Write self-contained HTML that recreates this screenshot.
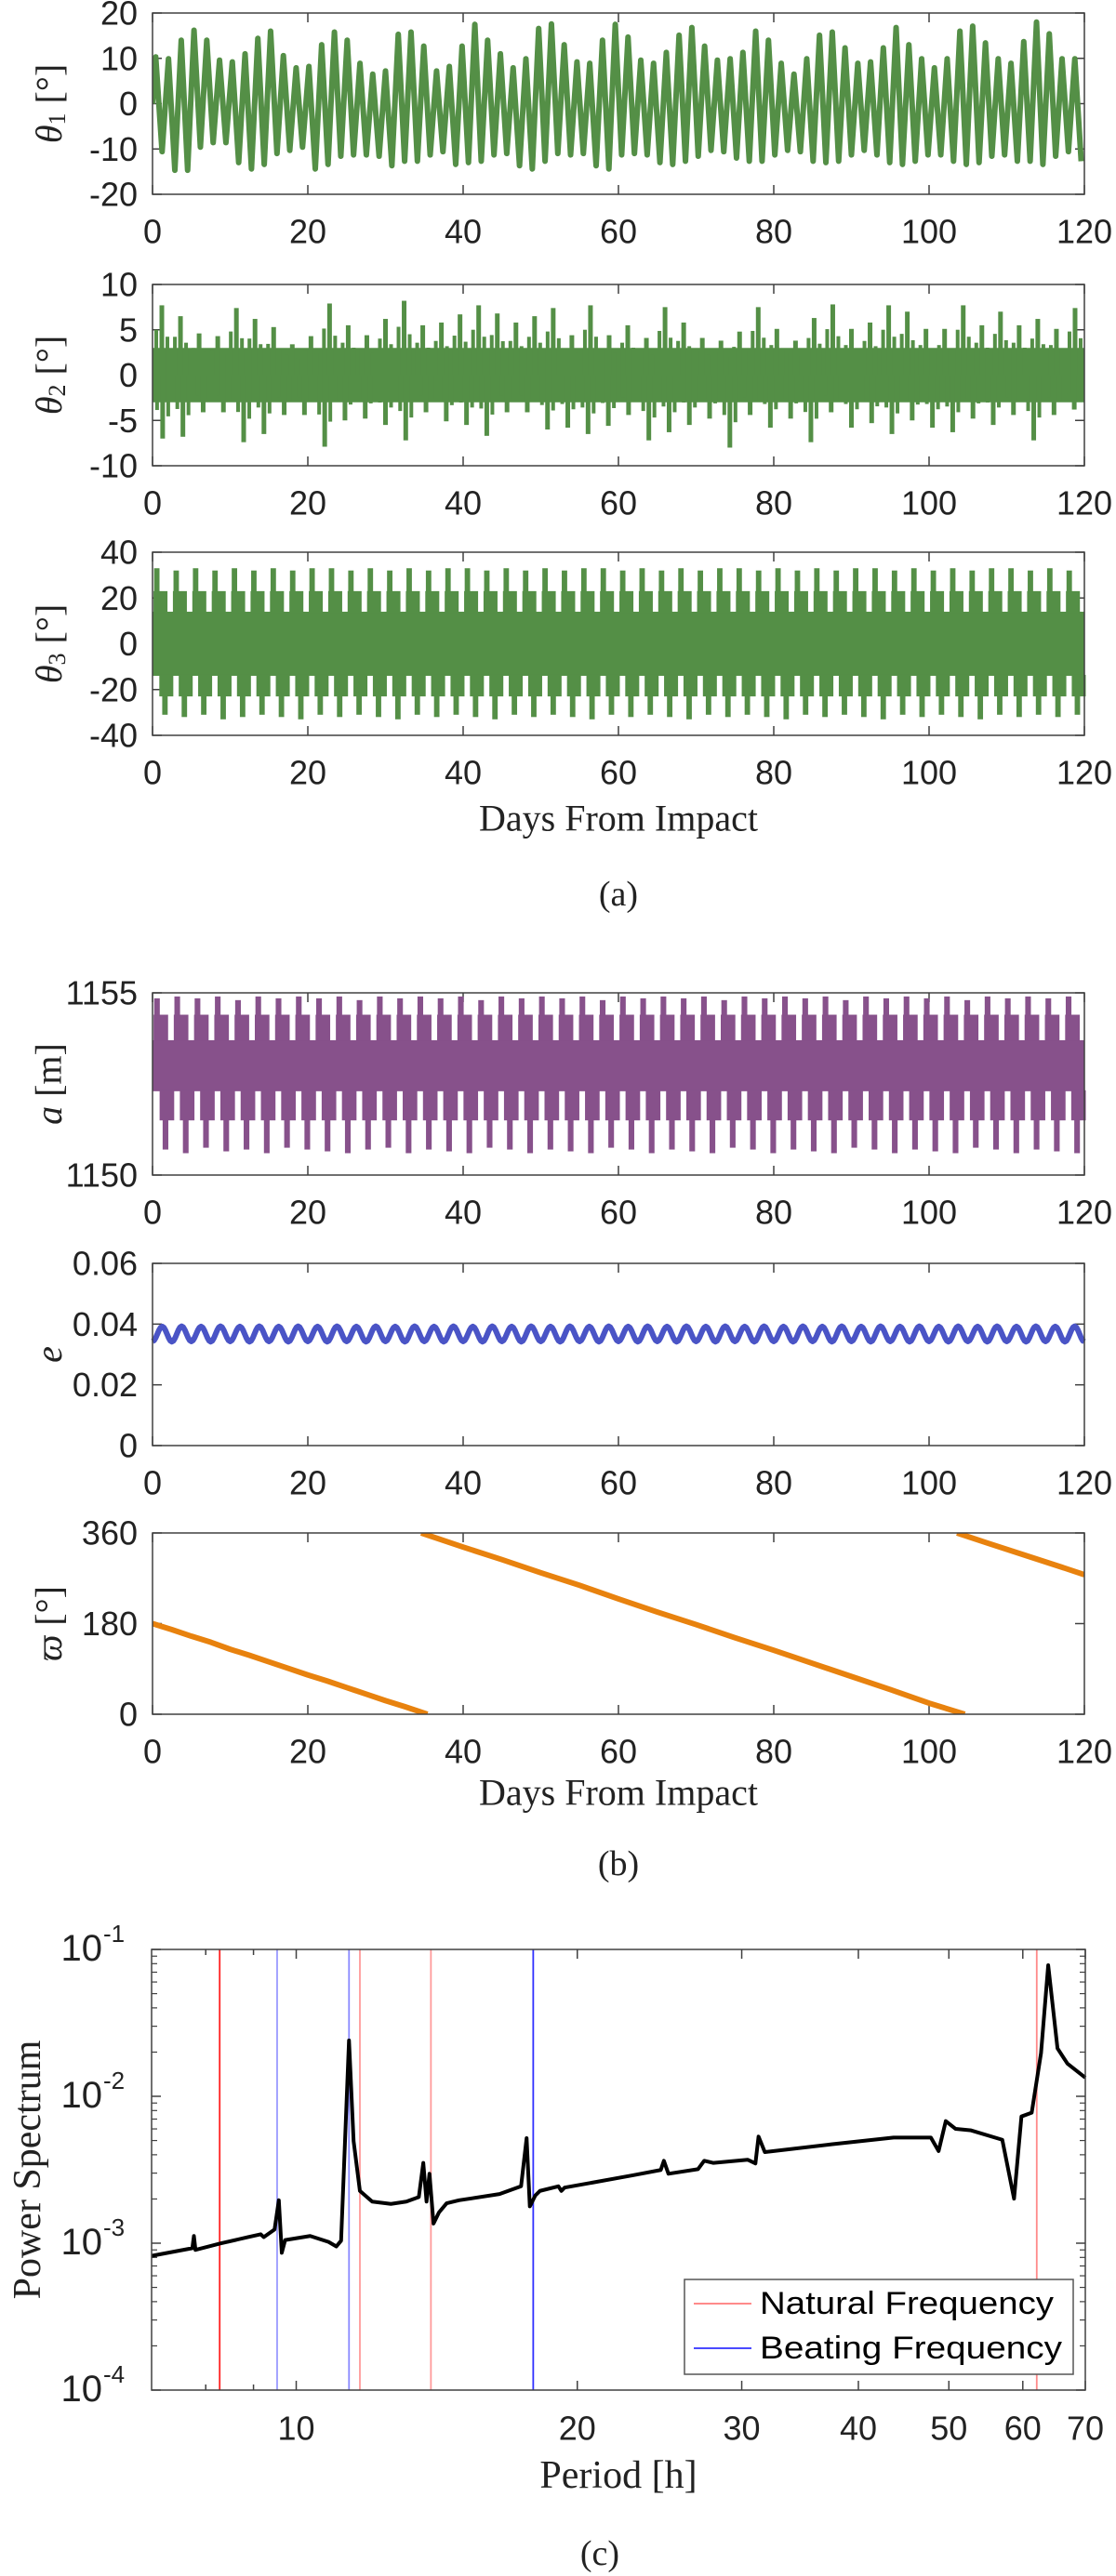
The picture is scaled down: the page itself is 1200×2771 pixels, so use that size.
<!DOCTYPE html>
<html><head><meta charset="utf-8"><style>
html,body{margin:0;padding:0;background:#fff;}
svg{display:block;}
</style></head><body>
<svg id="fig" xmlns="http://www.w3.org/2000/svg" width="1200" height="2771" viewBox="0 0 1200 2771"></svg>
<script>
// ---------- DATA ----------
const theta1Max=[10.3,9.9,14.0,16.2,14.0,9.6,9.2,11.0,14.4,16.0,10.6,7.9,8.2,13.0,15.8,14.0,8.9,6.5,7.2,15.3,15.8,12.7,7.2,8.2,12.7,17.5,14.0,11.0,7.9,9.9,16.6,17.6,13.0,9.2,8.9,14.0,17.5,14.7,9.6,8.9,11.3,15.1,16.8,12.7,9.6,9.9,11.3,16.0,14.0,8.9,6.5,9.9,15.1,15.8,12.3,8.9,9.2,12.3,16.8,13.0,9.9,7.9,9.9,16.0,17.1,13.4,9.9,8.9,13.7,18.0,15.4,9.9,9.9];
const theta1Min=[-10.6,-14.7,-14.7,-9.6,-8.6,-8.6,-13.0,-14.4,-13.4,-11.0,-10.3,-9.6,-14.4,-13.4,-11.6,-11.3,-11.3,-11.6,-13.7,-12.7,-12.7,-11.3,-10.6,-13.4,-13.0,-12.7,-11.3,-11.0,-13.7,-14.4,-12.7,-11.0,-11.3,-11.0,-13.7,-14.4,-11.3,-11.0,-11.3,-13.0,-13.4,-12.7,-11.6,-10.3,-10.6,-12.0,-12.7,-12.7,-11.3,-10.3,-10.6,-12.7,-13.0,-12.7,-11.3,-10.3,-11.3,-13.0,-13.4,-12.7,-11.3,-11.3,-12.7,-13.4,-13.0,-11.6,-11.3,-12.7,-12.7,-13.4,-11.6,-10.6,-12.7];
const theta2Core=3.0;
const theta2Hi=[7.7,6.5,4.6,4.3,7.4,6.2,5.3,3.4,4.3,7.9,5.5,4.4,6.2,8.2,5.5,5.8,6.7,7.7,6.8,5.8,6.5,7.4,4.4,7.7,4.4,5.5,4.1,7.5,5.8,4.1,3.8,4.8,7.5,5.1,3.8,6.3,7.8,5.1,5.8,7.7,7.0,5.1,5.1,7.7,5.5,7.0,5.5,6.2,5.1,7.4];
const theta2Lo=[-7.0,-6.8,-4.1,-4.1,-7.4,-6.5,-4.4,-4.4,-7.9,-5.0,-4.8,-5.5,-7.2,-4.1,-5.1,-5.5,-6.7,-4.1,-4.1,-6.0,-5.8,-6.5,-5.6,-4.4,-7.2,-6.3,-5.5,-4.8,-8.0,-4.4,-5.8,-4.8,-7.4,-4.1,-5.8,-5.3,-6.5,-5.0,-5.8,-6.3,-4.8,-5.5,-4.4,-7.2,-4.4,-3.8];
const theta3Core=14, theta3Shoulder=23;
const theta3Hi=[33,32,33,32,33,32,33,32,33,33,32,33,32,33,32,33,33,32,33,32,33,32,33,33,32,33,32,33,32,33,33,32,33,32,33,32,33,33,32,33,32,33,32,33,33,32,33,32];
const theta3Lo=[-31,-32,-31,-33,-32,-31,-32,-33,-31,-32,-31,-32,-33,-31,-32,-31,-32,-33,-31,-32,-31,-32,-33,-31,-32,-31,-32,-33,-31,-32,-31,-32,-33,-31,-32,-31,-32,-33,-31,-32,-31,-32,-33,-31,-32,-31,-32,-31];
const aCoreLo=1152.3, aCoreHi=1153.7, aShoulderHi=1154.4, aShoulderLo=1151.5;
const aHi=[1154.85,1154.9,1154.85,1154.9,1154.8,1154.9,1154.85,1154.9,1154.85,1154.9,1154.8,1154.9,1154.85,1154.9,1154.85,1154.9,1154.8,1154.9,1154.85,1154.9,1154.85,1154.9,1154.8,1154.9,1154.85,1154.9,1154.85,1154.9,1154.8,1154.9,1154.85,1154.9,1154.85,1154.9,1154.8,1154.9,1154.85,1154.9,1154.85,1154.9,1154.8,1154.9,1154.85,1154.9,1154.85,1154.9];
const aLo=[1150.7,1150.6,1150.75,1150.65,1150.7,1150.6,1150.75,1150.7,1150.65,1150.6,1150.7,1150.75,1150.6,1150.7,1150.65,1150.6,1150.75,1150.7,1150.6,1150.7,1150.65,1150.6,1150.75,1150.7,1150.6,1150.7,1150.65,1150.6,1150.75,1150.7,1150.6,1150.7,1150.65,1150.6,1150.75,1150.7,1150.6,1150.7,1150.65,1150.6,1150.75,1150.7,1150.6,1150.7,1150.65,1150.6];
const eMax=[0.0392,0.0393,0.0392,0.0393,0.0392,0.0393,0.0392,0.0393,0.0392,0.0393,0.0392,0.0393,0.0392,0.0393,0.0392,0.0393,0.0392,0.0393,0.0392,0.0393,0.0392,0.0393,0.0392,0.0393,0.0392,0.0393,0.0392,0.0393,0.0392,0.0393,0.0392,0.0393,0.0392,0.0393,0.0392,0.0393,0.0392,0.0393,0.0392,0.0393,0.0392,0.0393,0.0392,0.0393,0.0392,0.0393,0.0392,0.0393];
const eMin=[0.0343,0.0342,0.0343,0.0342,0.0343,0.0342,0.0343,0.0342,0.0343,0.0342,0.0343,0.0342,0.0343,0.0342,0.0343,0.0342,0.0343,0.0342,0.0343,0.0342,0.0343,0.0342,0.0343,0.0342,0.0343,0.0342,0.0343,0.0342,0.0343,0.0342,0.0343,0.0342,0.0343,0.0342,0.0343,0.0342,0.0343,0.0342,0.0343,0.0342,0.0343,0.0342,0.0343,0.0342,0.0343,0.0342,0.0343,0.0342];
const varpiSeg1T=[0,2.5,5,7.5,10,12.5,15,17.5,20,22.5,25,27.5,30,32.5,35.4];
const varpiSeg1V=[180,168,155,143,129,117,104,91,78,66,53,40,27,15,0];
const varpiSeg2T=[34.6,40,45,50,55,60,65,70,75,80,85,90,95,100,104.6];
const varpiSeg2V=[360,332,307,281,256,229,203,178,152,127,101,75,49,22,0];
const varpiSeg3T=[103.6,107.5,112.5,117.5,120];
const varpiSeg3V=[360,340,315,290,277];
const specPeriod=[7.00,7.74,7.77,7.80,8.29,8.88,9.16,9.23,9.48,9.58,9.65,9.73,10.35,10.83,11.04,11.17,11.39,11.52,11.70,12.06,12.63,13.12,13.53,13.68,13.79,13.89,14.03,14.22,14.49,14.94,16.51,17.41,17.65,17.79,18.03,18.24,19.09,19.23,19.38,22.94,24.57,24.76,25.04,26.93,27.35,27.98,30.44,31.03,31.27,31.76,37.43,43.63,47.83,48.75,49.62,50.84,52.82,57.04,58.72,59.80,61.33,62.76,63.88,65.36,66.98,70.0];
const specPower=[8.2e-4,9.25e-4,1.12e-3,9.0e-4,9.95e-4,1.10e-3,1.15e-3,1.10e-3,1.24e-3,1.96e-3,8.6e-4,1.05e-3,1.12e-3,1.02e-3,9.5e-4,1.04e-3,2.40e-2,4.95e-3,2.27e-3,1.92e-3,1.85e-3,1.92e-3,2.06e-3,3.52e-3,1.92e-3,2.97e-3,1.36e-3,1.62e-3,1.87e-3,1.96e-3,2.16e-3,2.44e-3,5.19e-3,1.78e-3,2.11e-3,2.27e-3,2.44e-3,2.27e-3,2.39e-3,2.90e-3,3.15e-3,3.64e-3,2.97e-3,3.19e-3,3.64e-3,3.52e-3,3.70e-3,3.49e-3,5.32e-3,4.17e-3,4.71e-3,5.24e-3,5.24e-3,4.24e-3,6.78e-3,6.0e-3,5.86e-3,5.06e-3,2.01e-3,7.29e-3,7.73e-3,1.97e-2,7.8e-2,2.12e-2,1.67e-2,1.34e-2];
const naturalPeriods=[8.28,11.70,13.94,62.1];
const naturalColors=['#ff2020','#ff9a9a','#ff9a9a','#ff8a8a'];
const beatingPeriods=[9.54,11.39,17.94];
const beatingColors=['#9a9aff','#8a8aff','#3030ff'];
const dayTicks=[0,20,40,60,80,100,120];
const periodMajorTicks=[10,20,30,40,50,60,70];
const periodMinorTicks=[8,9];
const powerDecades=[-4,-3,-2,-1];

// ---------- HELPERS ----------
const NS='http://www.w3.org/2000/svg';
const svg=document.getElementById('fig');
function mk(tag,attrs,parent){const e=document.createElementNS(NS,tag);for(const k in attrs)e.setAttribute(k,attrs[k]);(parent||svg).appendChild(e);return e;}
const X0=164,X1=1166;
function xs(t){return X0+(t/120)*(X1-X0);}
function makeY(p){return v=>p.bot-(v-p.min)/(p.max-p.min)*(p.bot-p.top);}
const SANS='"Liberation Sans", Arial, sans-serif';
const SERIF='"Liberation Serif", "DejaVu Serif", serif';
const AX='#404040';

function drawAxes(p,yticks,ylabels,name){
  const y=makeY(p);
  const g=mk('g',{});
  
  
  dayTicks.forEach(t=>{
    mk('line',{x1:xs(t),x2:xs(t),y1:p.bot,y2:p.bot-10,stroke:AX,'stroke-width':1.5},g);
    mk('line',{x1:xs(t),x2:xs(t),y1:p.top,y2:p.top+10,stroke:AX,'stroke-width':1.5},g);
    const tl=mk('text',{x:xs(t),y:p.bot+40,'text-anchor':'middle','dominant-baseline':'central','font-family':SANS,'font-size':36,fill:'#222'},g);
    tl.textContent=String(t);
    
    
  });
  yticks.forEach((v,i)=>{
    mk('line',{x1:X0,x2:X0+10,y1:y(v),y2:y(v),stroke:AX,'stroke-width':1.5},g);
    mk('line',{x1:X1,x2:X1-10,y1:y(v),y2:y(v),stroke:AX,'stroke-width':1.5},g);
    if(ylabels[i]!==null){
      const tl=mk('text',{x:148,y:y(v),'text-anchor':'end','dominant-baseline':'central','font-family':SANS,'font-size':36,fill:'#222'},g);
      tl.textContent=ylabels[i];
      
      
    }
  });
  return y;
}
function drawBox(p){
  const r=mk('rect',{x:X0,y:p.top,width:X1-X0,height:p.bot-p.top,fill:'none',stroke:AX,'stroke-width':1.5});
  
  
}
function yTitle(cx,cy,html,name,size){
  const t=mk('text',{x:cx,y:cy,'text-anchor':'middle','dominant-baseline':'central','font-family':SERIF,'font-size':size||40,fill:'#222',transform:`rotate(-90 ${cx} ${cy})`});
  t.innerHTML=html;
  
  
}
function centerText(x,y,str,size,name){
  const t=mk('text',{x:x,y:y,'text-anchor':'middle','dominant-baseline':'central','font-family':SERIF,'font-size':size,fill:'#222'});
  t.textContent=str;
  
  
}
function clip(p,id){
  const defs=mk('defs',{});
  const cp=mk('clipPath',{id:id},defs);
  mk('rect',{x:X0,y:p.top,width:X1-X0,height:p.bot-p.top},cp);
}

const GREEN='#548f46';
// ---------- THETA 1 ----------
const P1={top:14,bot:209,min:-20,max:20};
let y=drawAxes(P1,[-20,-10,0,10,20],['-20','-10','0','10','20'],'theta1');
clip(P1,'c1');
{
  const n=theta1Max.length;const pts=[[xs(0),y(0)]];
  for(let i=0;i<n;i++){
    pts.push([xs((i+0.25)*120/n),y(theta1Max[i])]);
    pts.push([xs((i+0.75)*120/n),y(theta1Min[i])]);
  }
  const pl=mk('polyline',{points:pts.map(q=>q.join(',')).join(' '),fill:'none',stroke:GREEN,'stroke-width':6,'stroke-linejoin':'round','clip-path':'url(#c1)'});
  
  
}
drawBox(P1);
yTitle(52,(P1.top+P1.bot)/2,'<tspan font-style="italic">θ</tspan><tspan font-size="26" dy="9">1</tspan><tspan dy="-9"> [°]</tspan>','theta1-y-title');

// ---------- THETA 2 ----------
const P2={top:306,bot:501,min:-10,max:10};
y=drawAxes(P2,[-10,-5,0,5,10],['-10','-5','0','5','10'],'theta2');
{
  const g=mk('g',{});
  
  
  mk('rect',{x:xs(0),y:y(theta2Core),width:xs(120)-xs(0),height:y(-theta2Core)-y(theta2Core),fill:GREEN},g);
  theta2Hi.forEach((v,i)=>{const t=(i+0.5)*120/theta2Hi.length;
    mk('rect',{x:xs(t)-2.5,y:y(v),width:5,height:y(0)-y(v),fill:GREEN},g);
    mk('rect',{x:xs(t)-8,y:y(v*0.65),width:4,height:y(0)-y(v*0.65),fill:GREEN},g);
    mk('rect',{x:xs(t)+4,y:y(v*0.55),width:4,height:y(0)-y(v*0.55),fill:GREEN},g);});
  theta2Lo.forEach((v,i)=>{const t=(i+0.5)*120/theta2Lo.length;
    mk('rect',{x:xs(t)-2.5,y:y(0),width:5,height:y(v)-y(0),fill:GREEN},g);
    mk('rect',{x:xs(t)+4,y:y(0),width:4,height:y(v*0.65)-y(0),fill:GREEN},g);
    mk('rect',{x:xs(t)-8,y:y(0),width:4,height:y(v*0.55)-y(0),fill:GREEN},g);});
}
drawBox(P2);
yTitle(52,(P2.top+P2.bot)/2,'<tspan font-style="italic">θ</tspan><tspan font-size="26" dy="9">2</tspan><tspan dy="-9"> [°]</tspan>','theta2-y-title');

// ---------- toothed band ----------
function toothed(p,y,hi,lo,coreHi,coreLo,shHi,shLo,color,name){
  const g=mk('g',{});
  
  
  mk('rect',{x:xs(0),y:y(coreHi),width:xs(120)-xs(0),height:y(coreLo)-y(coreHi),fill:color},g);
  const n=hi.length,per=120/n,w=xs(per)-xs(0);
  hi.forEach((v,i)=>{const x=xs(i*per);
    mk('rect',{x:x+0.05*w,y:y(shHi),width:0.72*w,height:y(coreHi)-y(shHi)+1,fill:color},g);
    mk('rect',{x:x+0.08*w,y:y(v),width:0.28*w,height:y(shHi)-y(v)+1,fill:color},g);});
  lo.forEach((v,i)=>{const x=xs(i*per+per*0.5);
    mk('rect',{x:x-0.15*w,y:y(coreLo)-1,width:0.72*w,height:y(shLo)-y(coreLo)+1,fill:color},g);
    mk('rect',{x:x,y:y(shLo)-1,width:0.28*w,height:y(v)-y(shLo)+1,fill:color},g);});
}

// ---------- THETA 3 ----------
const P3={top:594,bot:791,min:-40,max:40};
y=drawAxes(P3,[-40,-20,0,20,40],['-40','-20','0','20','40'],'theta3');
clip(P3,'c3');
toothed(P3,y,theta3Hi,theta3Lo,theta3Core,-theta3Core,theta3Shoulder,-theta3Shoulder,GREEN,'theta3-series');
drawBox(P3);
yTitle(52,(P3.top+P3.bot)/2,'<tspan font-style="italic">θ</tspan><tspan font-size="26" dy="9">3</tspan><tspan dy="-9"> [°]</tspan>','theta3-y-title');
centerText(665,880,'Days From Impact',40,'x-axis-title-a');
centerText(665,962,'(a)',38,'caption-a');

// ---------- a ----------
const PA={top:1068,bot:1264,min:1150,max:1155};
y=drawAxes(PA,[1150,1155],['1150','1155'],'semi-major');
toothed(PA,y,aHi,aLo,aCoreHi,aCoreLo,aShoulderHi,aShoulderLo,'#87518b','semi-major-series');
drawBox(PA);
yTitle(52,(PA.top+PA.bot)/2,'<tspan font-style="italic">a</tspan> [m]','semi-major-y-title');

// ---------- e ----------
const PE={top:1359,bot:1555,min:0,max:0.06};
y=drawAxes(PE,[0,0.02,0.04,0.06],['0','0.02','0.04','0.06'],'eccentricity');
{
  const ext=[];const n=eMax.length;
  for(let i=0;i<n;i++){ext.push([(i)*120/n,eMin[i]]);ext.push([(i+0.5)*120/n,eMax[i]]);}
  ext.push([120,eMin[n-1]]);
  const pts=[];
  for(let k=0;k<ext.length-1;k++){
    const [t0,v0]=ext[k],[t1,v1]=ext[k+1];
    for(let s=0;s<6;s++){const f=s/6,c=(1-Math.cos(Math.PI*f))/2;pts.push(xs(t0+(t1-t0)*f)+','+y(v0+(v1-v0)*c));}
  }
  pts.push(xs(120)+','+y(ext[ext.length-1][1]));
  const pl=mk('polyline',{points:pts.join(' '),fill:'none',stroke:'#4a54c6','stroke-width':6,'stroke-linejoin':'round'});
  
  
}
drawBox(PE);
yTitle(52,(PE.top+PE.bot)/2,'<tspan font-style="italic">e</tspan>','eccentricity-y-title');

// ---------- varpi ----------
const PW={top:1649,bot:1844,min:0,max:360};
y=drawAxes(PW,[0,180,360],['0','180','360'],'varpi');
clip(PW,'cw');
[[varpiSeg1T,varpiSeg1V],[varpiSeg2T,varpiSeg2V],[varpiSeg3T,varpiSeg3V]].forEach(([T,V],k)=>{
  const pl=mk('polyline',{points:T.map((t,i)=>xs(t)+','+y(V[i])).join(' '),fill:'none',stroke:'#e8820e','stroke-width':6,'stroke-linejoin':'round','clip-path':'url(#cw)'});
  
  
});
drawBox(PW);
yTitle(52,(PW.top+PW.bot)/2,'<tspan font-style="italic">ϖ</tspan> [°]','varpi-y-title');
centerText(665,1928,'Days From Impact',40,'x-axis-title-b');
centerText(665,2005,'(b)',38,'caption-b');

// ---------- SPECTRUM ----------
const S={l:163,r:1167,top:2097,bot:2571};
function sx(p){return S.l+(Math.log10(p)-Math.log10(7))/(Math.log10(70)-Math.log10(7))*(S.r-S.l);}
function sy(v){return S.bot-(Math.log10(v)+4)/3*(S.bot-S.top);}
{
  const g=mk('g',{});
  
  
  periodMajorTicks.forEach(p=>{
    mk('line',{x1:sx(p),x2:sx(p),y1:S.bot,y2:S.bot-10,stroke:AX,'stroke-width':1.5},g);
    mk('line',{x1:sx(p),x2:sx(p),y1:S.top,y2:S.top+10,stroke:AX,'stroke-width':1.5},g);
    const tl=mk('text',{x:sx(p),y:2612,'text-anchor':'middle','dominant-baseline':'central','font-family':SANS,'font-size':36,fill:'#222'},g);
    tl.textContent=String(p);
    
    
  });
  periodMinorTicks.forEach(p=>{
    mk('line',{x1:sx(p),x2:sx(p),y1:S.bot,y2:S.bot-6,stroke:AX,'stroke-width':1.5},g);
    mk('line',{x1:sx(p),x2:sx(p),y1:S.top,y2:S.top+6,stroke:AX,'stroke-width':1.5},g);
  });
  powerDecades.forEach(d=>{
    const yy=sy(Math.pow(10,d));
    mk('line',{x1:S.l,x2:S.l+10,y1:yy,y2:yy,stroke:AX,'stroke-width':1.5},g);
    mk('line',{x1:S.r,x2:S.r-10,y1:yy,y2:yy,stroke:AX,'stroke-width':1.5},g);
    if(d<-1){for(let m=2;m<10;m++){const ym=sy(m*Math.pow(10,d));
      mk('line',{x1:S.l,x2:S.l+6,y1:ym,y2:ym,stroke:AX,'stroke-width':1.2},g);
      mk('line',{x1:S.r,x2:S.r-6,y1:ym,y2:ym,stroke:AX,'stroke-width':1.2},g);}}
    const tl=mk('text',{x:110,y:yy+12,'text-anchor':'end','font-family':SANS,'font-size':40,fill:'#222'},g);
    tl.textContent='10';
    
    
    const sp=mk('text',{x:111,y:yy-8,'text-anchor':'start','font-family':SANS,'font-size':26,fill:'#222'},g);
    sp.textContent=String(d);
    
    
  });
}
naturalPeriods.forEach((p,i)=>{
  const l=mk('line',{x1:sx(p),x2:sx(p),y1:S.top,y2:S.bot,stroke:naturalColors[i],'stroke-width':1.8});
  
  
});
beatingPeriods.forEach((p,i)=>{
  const l=mk('line',{x1:sx(p),x2:sx(p),y1:S.top,y2:S.bot,stroke:beatingColors[i],'stroke-width':1.8});
  
  
});
{
  const pl=mk('polyline',{points:specPeriod.map((p,i)=>sx(p)+','+sy(specPower[i])).join(' '),fill:'none',stroke:'#000','stroke-width':4,'stroke-linejoin':'round'});
  
  
}
{
  const r=mk('rect',{x:S.l,y:S.top,width:S.r-S.l,height:S.bot-S.top,fill:'none',stroke:AX,'stroke-width':1.5});
  
  
  const lg=mk('g',{});
  
  
  mk('rect',{x:736,y:2452,width:418,height:102,fill:'#fff',stroke:'#555','stroke-width':1.5},lg);
  mk('line',{x1:746,x2:808,y1:2478,y2:2478,stroke:'#ff8a8a','stroke-width':2},lg);
  mk('line',{x1:746,x2:808,y1:2526,y2:2526,stroke:'#4a4aff','stroke-width':2},lg);
  const t1=mk('text',{x:817,y:2478,'dominant-baseline':'central','font-family':SANS,'font-size':34,fill:'#000',textLength:316,lengthAdjust:'spacingAndGlyphs'},lg);
  t1.textContent='Natural Frequency';
  
  
  const t2=mk('text',{x:817,y:2526,'dominant-baseline':'central','font-family':SANS,'font-size':34,fill:'#000',textLength:325,lengthAdjust:'spacingAndGlyphs'},lg);
  t2.textContent='Beating Frequency';
  
  
}
yTitle(30,(S.top+S.bot)/2,'Power Spectrum','power-y-title',42);
centerText(665,2663,'Period [h]',42,'period-x-title');
centerText(645,2747,'(c)',38,'caption-c');
</script>
</body></html>
